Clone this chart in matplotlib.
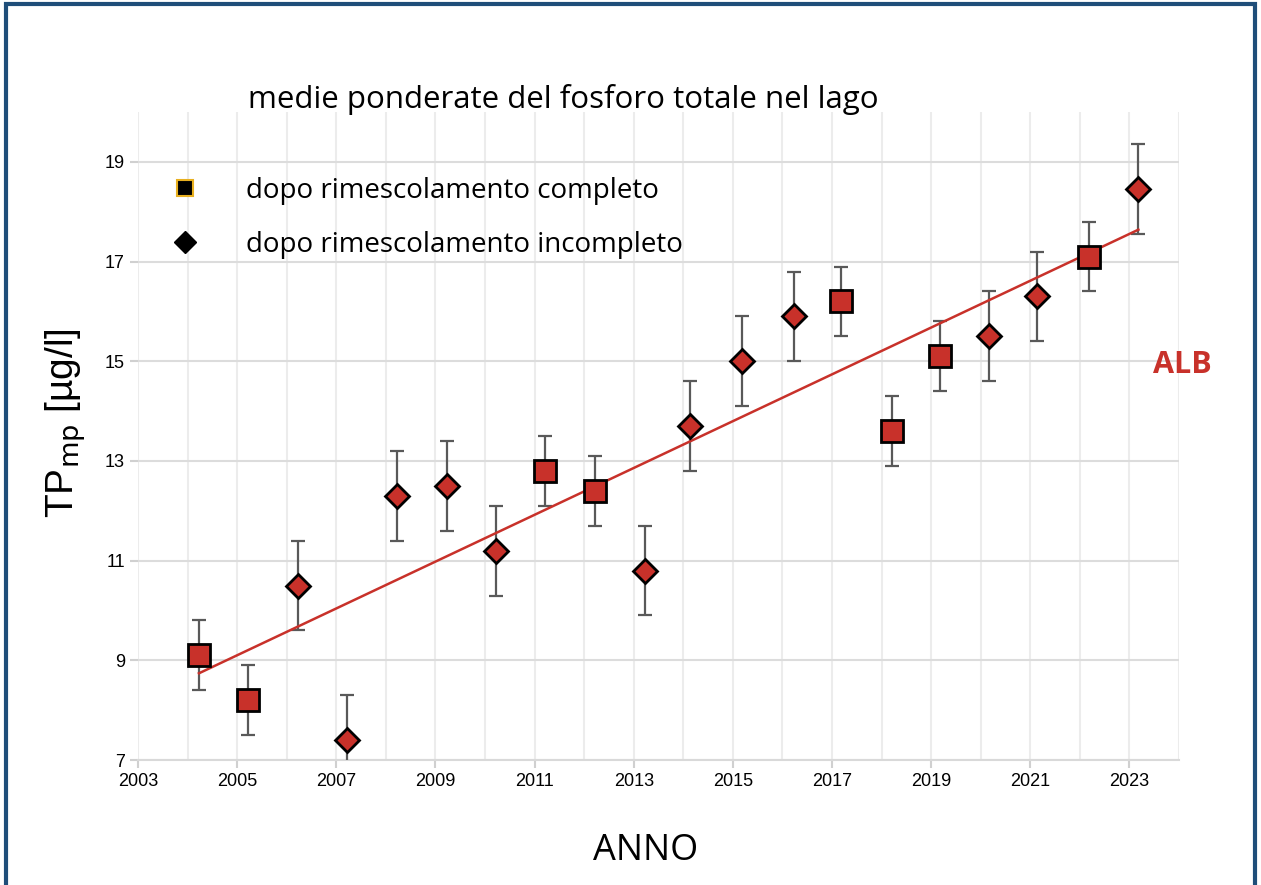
import numpy as np
import matplotlib.pyplot as plt
from matplotlib.lines import Line2D
from matplotlib.patches import Rectangle

# positions (decimal year) and weighted mean TP values
x_complete = [2004.23, 2005.22, 2011.21, 2012.22, 2017.19, 2018.22, 2019.17, 2022.19]
y_complete = [9.1, 8.2, 12.8, 12.4, 16.2, 13.6, 15.1, 17.1]
err_complete = [0.7, 0.7, 0.7, 0.7, 0.7, 0.7, 0.7, 0.7]

x_incomplete = [2006.23, 2007.22, 2008.23, 2009.24, 2010.22, 2013.23, 2014.14,
                2015.19, 2016.24, 2020.17, 2021.14, 2023.18]
y_incomplete = [10.5, 7.4, 12.3, 12.5, 11.2, 10.8, 13.7, 15.0, 15.9, 15.5, 16.3, 18.45]
err_incomplete = [0.9, 0.9, 0.9, 0.9, 0.9, 0.9, 0.9, 0.9, 0.9, 0.9, 0.9, 0.9]

trend_x = [2004.23, 2023.18]
trend_y = [8.74, 17.64]

red = '#C8312A'
grey = '#595959'

fig = plt.figure(figsize=(12.61, 8.85), dpi=100)
ax = fig.add_axes([0.1094, 0.1412, 0.8256, 0.7322])

ax.errorbar(x_complete, y_complete, yerr=err_complete, fmt='none', ecolor=grey,
            elinewidth=1.6, capsize=5, capthick=1.6, zorder=3)
ax.errorbar(x_incomplete, y_incomplete, yerr=err_incomplete, fmt='none', ecolor=grey,
            elinewidth=1.6, capsize=5, capthick=1.6, zorder=3)
ax.plot(trend_x, trend_y, color=red, lw=1.8, zorder=4)
ax.plot(x_complete, y_complete, 's', ms=15.5, mfc=red, mec='black', mew=2, zorder=5)
ax.plot(x_incomplete, y_incomplete, 'D', ms=12.5, mfc=red, mec='black', mew=2, zorder=5)

ax.set_xlim(2003, 2024)
ax.set_ylim(7, 20)
ax.set_xticks(np.arange(2003, 2024, 2))
ax.set_xticks(np.arange(2004, 2025, 2), minor=True)
ax.set_yticks(np.arange(7, 20, 2))
ax.tick_params(axis='both', which='major', labelsize=13, colors='#d0d0d0',
               labelcolor='black', length=6, width=1.5)
ax.tick_params(axis='x', which='minor', length=0)
for lab in ax.get_xticklabels() + ax.get_yticklabels():
    lab.set_family('Liberation Sans')

ax.grid(axis='y', color='#dcdcdc', lw=1.5, zorder=0)
ax.grid(axis='x', which='both', color='#ececec', lw=1.5, zorder=0)
for s in ['top', 'right', 'left']:
    ax.spines[s].set_visible(False)
ax.spines['bottom'].set_color('#d9d9d9')
ax.spines['bottom'].set_linewidth(1.5)

ax.set_ylabel(r'TP$_{\mathrm{mp}}$ [µg/l]', fontsize=28, family='Liberation Sans')
ax.yaxis.set_label_coords(-0.048, 0.52)
fig.text(0.512, 0.038, 'ANNO', fontsize=26, family='Open Sans', ha='center', va='center')
fig.text(0.447, 0.888, 'medie ponderate del fosforo totale nel lago', fontsize=22.5,
         family='Open Sans', ha='center', va='center')
fig.text(0.938, 0.588, 'ALB', fontsize=22, family='Open Sans', weight='bold',
         color=red, ha='center', va='center')

handles = [Line2D([], [], ls='none', marker='s', ms=12, mfc='black', mec='#E8B020', mew=1.5),
           Line2D([], [], ls='none', marker='D', ms=11, mfc='black', mec='black')]
ax.legend(handles, ['dopo rimescolamento completo', 'dopo rimescolamento incompleto'],
          loc='upper left', bbox_to_anchor=(0.116, 0.813), bbox_transform=fig.transFigure,
          frameon=False, prop={'family': 'Open Sans', 'size': 20},
          handletextpad=1.2, labelspacing=0.95, borderaxespad=0)

fig.patches.append(Rectangle((0.005, -0.05), 0.99, 1.045, transform=fig.transFigure,
                             fill=False, ec='#1F4E79', lw=3))

fig.savefig('out.png', dpi=100)
